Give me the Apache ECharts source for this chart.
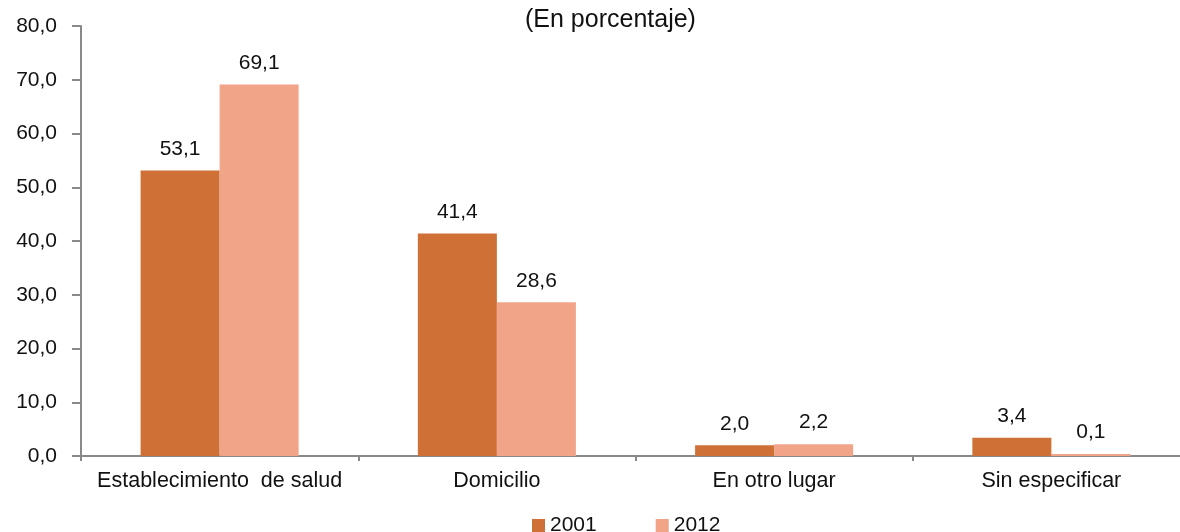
<!DOCTYPE html>
<html>
<head>
<meta charset="utf-8">
<script src="https://cdn.jsdelivr.net/npm/echarts@6/dist/echarts.min.js"></script>
<style>
  html, body { margin: 0; padding: 0; background: #ffffff; }
  #chart { width: 1180px; height: 532px; }
</style>
</head>
<body>
<div id="chart"></div>
<script>
// Lugar de atención del parto, 2001 y 2012 (porcentaje)
const categories = ['Establecimiento  de salud', 'Domicilio', 'En otro lugar', 'Sin especificar'];
const values2001 = [53.1, 41.4, 2.0, 3.4];
const values2012 = [69.1, 28.6, 2.2, 0.1];
const seriesNames = ['2001', '2012'];
const yTicks = [0, 10, 20, 30, 40, 50, 60, 70, 80];

const fmt = v => Number(v).toFixed(1).replace('.', ',');
const font = 'Liberation Sans, Arial, sans-serif';

const chart = echarts.init(document.getElementById('chart'));
const labelStyle = {
  show: true,
  position: 'top',
  distance: 11,
  color: '#111',
  fontFamily: font,
  fontSize: 21,
  formatter: p => fmt(p.value)
};

chart.setOption({
  animation: false,
  title: {
    text: '(En porcentaje)',
    left: 520,
    top: 3,
    textStyle: { fontFamily: font, fontSize: 25, fontWeight: 'normal', color: '#111' }
  },
  legend: {
    data: seriesNames,
    top: 510,
    left: 527,
    itemWidth: 13,
    itemHeight: 13,
    itemGap: 59,
    icon: 'rect',
    textStyle: { fontFamily: font, fontSize: 21, color: '#111' }
  },
  grid: { left: 81, width: 1109, top: 26, bottom: 76, containLabel: false, outerBoundsMode: 'none' },
  xAxis: {
    type: 'category',
    data: categories,
    axisLine: { lineStyle: { color: '#898989', width: 2 } },
    axisTick: { show: true, interval: 0, length: 5, lineStyle: { color: '#898989', width: 2 } },
    axisLabel: { interval: 0, color: '#111', fontFamily: font, fontSize: 21.5, margin: 14 }
  },
  yAxis: {
    type: 'value',
    min: yTicks[0],
    max: yTicks[yTicks.length - 1],
    interval: 10,
    axisLine: { show: true, lineStyle: { color: '#898989', width: 2 } },
    axisTick: { show: true, length: 9, lineStyle: { color: '#898989', width: 2 } },
    splitLine: { show: false },
    axisLabel: { color: '#111', fontFamily: font, fontSize: 21, margin: 24, formatter: v => fmt(v) }
  },
  series: [
    {
      name: seriesNames[0],
      type: 'bar',
      data: values2001,
      barGap: '0%',
      barCategoryGap: '43%',
      barMinHeight: 2,
      itemStyle: { color: '#CF7136' },
      label: labelStyle
    },
    {
      name: seriesNames[1],
      type: 'bar',
      data: values2012,
      barMinHeight: 2,
      itemStyle: { color: '#F2A489' },
      label: labelStyle
    }
  ]
});
</script>
</body>
</html>
